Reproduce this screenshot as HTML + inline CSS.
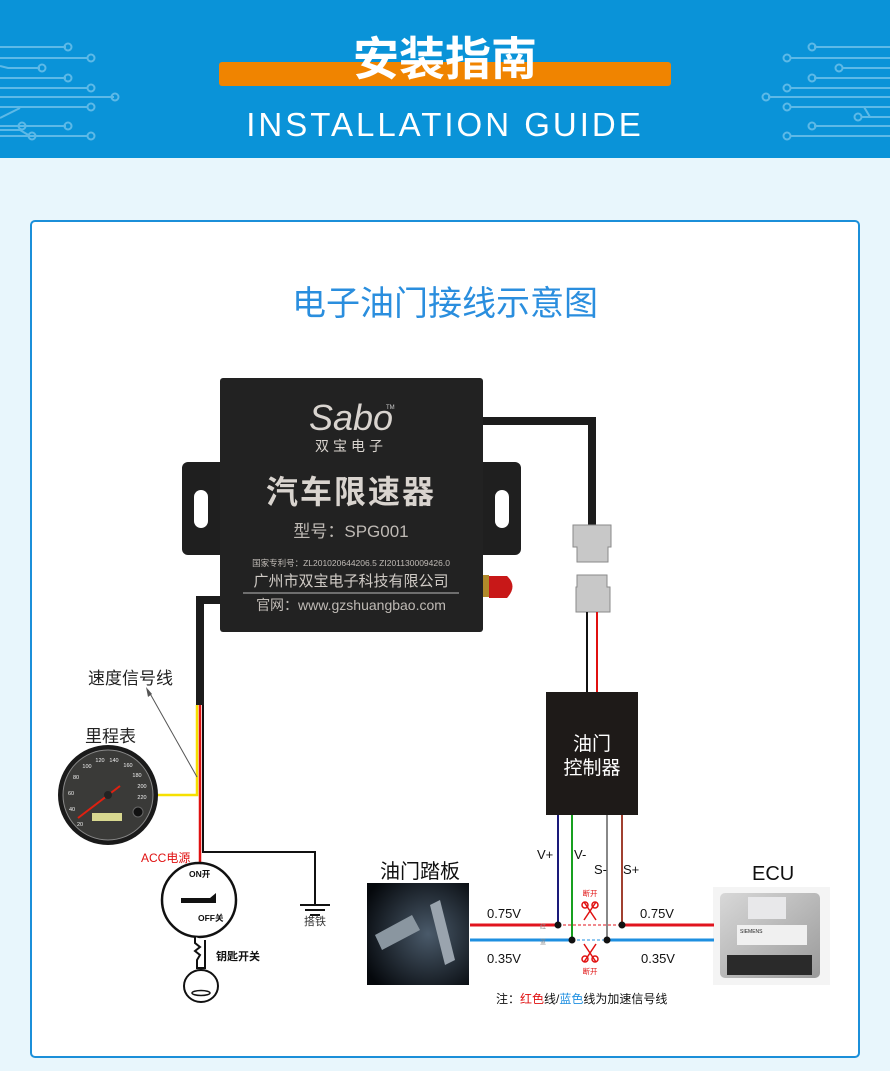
<!DOCTYPE html>
<html><head><meta charset="utf-8">
<style>
html,body{margin:0;padding:0;}
body{width:890px;height:1066px;background:#e8f6fc;font-family:"Liberation Sans","Noto Sans CJK SC",sans-serif;overflow:hidden;}
svg text{font-family:"Liberation Sans","Noto Sans CJK SC",sans-serif;}
</style></head><body>
<svg width="890" height="1066" viewBox="0 0 890 1066" xmlns="http://www.w3.org/2000/svg">
<defs>
<linearGradient id="ecu" x1="0" y1="0" x2="1" y2="1"><stop offset="0" stop-color="#d8d8d8"/><stop offset="1" stop-color="#9a9a9a"/></linearGradient>
<radialGradient id="ped" cx="0.6" cy="0.5" r="0.7"><stop offset="0" stop-color="#4a5a6a"/><stop offset="1" stop-color="#05080c"/></radialGradient>
</defs>
<rect x="0" y="0" width="890" height="158" fill="#0a93d8"/>
<g stroke="#6cc0ea" stroke-width="2" fill="none" opacity="0.85">
 <path d="M0 47H66 M0 58H88 M0 66L8 68H40 M0 78H66 M0 88H88 M0 97H114 M0 107H88 M0 118L20 108 M0 126H66 M0 136H88 M0 130H20L30 136"/>
 <circle cx="68" cy="47" r="3.5"/><circle cx="91" cy="58" r="3.5"/><circle cx="42" cy="68" r="3.5"/><circle cx="68" cy="78" r="3.5"/><circle cx="91" cy="88" r="3.5"/><circle cx="115" cy="97" r="3.5"/><circle cx="91" cy="107" r="3.5"/><circle cx="22" cy="126" r="3.5"/><circle cx="68" cy="126" r="3.5"/><circle cx="91" cy="136" r="3.5"/><circle cx="32" cy="136" r="3.5"/>
 <path d="M890 47H814 M890 58H790 M890 68H842 M890 78H814 M890 88H790 M890 97H768 M890 107H790 L864 107 L870 117 M890 126H814 M890 136H790 M890 117H862"/>
 <circle cx="812" cy="47" r="3.5"/><circle cx="787" cy="58" r="3.5"/><circle cx="839" cy="68" r="3.5"/><circle cx="812" cy="78" r="3.5"/><circle cx="787" cy="88" r="3.5"/><circle cx="766" cy="97" r="3.5"/><circle cx="787" cy="107" r="3.5"/><circle cx="812" cy="126" r="3.5"/><circle cx="787" cy="136" r="3.5"/><circle cx="858" cy="117" r="3.5"/>
</g>
<rect x="219" y="62" width="452" height="24" rx="3" fill="#f08400"/>
<text x="445" y="75" text-anchor="middle" font-size="46" font-weight="bold" fill="#fff">安装指南</text>
<text x="445" y="136" text-anchor="middle" font-size="33" fill="#fff" letter-spacing="3">INSTALLATION GUIDE</text>

<rect x="31" y="221" width="828" height="836" rx="4" fill="#fff" stroke="#1b8fd9" stroke-width="2"/>
<text x="445" y="315" text-anchor="middle" font-size="34" fill="#2a8ede">电子油门接线示意图</text>

<!-- right cable -->
<path d="M480 421H592V526" stroke="#1c1c1c" stroke-width="8" fill="none"/>
<path d="M573 525H611V547H608V562H577V547H573Z" fill="#c8c8c8" stroke="#8a8a8a"/>
<path d="M577 575H607V587H610V612H576V587H577Z" fill="#c8c8c8" stroke="#8a8a8a"/>
<line x1="587" y1="612" x2="587" y2="692" stroke="#111" stroke-width="2"/>
<line x1="597" y1="612" x2="597" y2="692" stroke="#e01010" stroke-width="2"/>
<rect x="546" y="692" width="92" height="123" fill="#1e1a18"/>
<text x="592" y="750" text-anchor="middle" font-size="19" fill="#fff">油门</text>
<text x="592" y="774" text-anchor="middle" font-size="19" fill="#fff">控制器</text>

<!-- left cable -->
<path d="M222 600H200V705" stroke="#1c1c1c" stroke-width="8" fill="none"/>
<path d="M197 705V795H157" stroke="#f6e000" stroke-width="2.5" fill="none"/>
<line x1="200" y1="705" x2="200" y2="862" stroke="#e01010" stroke-width="2.5"/>
<path d="M203 705V852H315V905" stroke="#111" stroke-width="2" fill="none"/>
<path d="M300 905H330M305 910H325M310 915H320" stroke="#111" stroke-width="2"/>
<text x="315" y="925" text-anchor="middle" font-size="11" fill="#333">搭铁</text>

<!-- antenna -->
<rect x="483" y="575" width="6" height="22" fill="#b08a2a"/>
<path d="M489 576H507Q518 586 507 598H489Z" fill="#c81818"/>

<!-- device -->
<rect x="182" y="462" width="339" height="93" rx="6" fill="#1f1f1f"/>
<rect x="194" y="490" width="14" height="38" rx="7" fill="#fff"/>
<rect x="495" y="490" width="14" height="38" rx="7" fill="#fff"/>
<rect x="220" y="378" width="263" height="254" rx="3" fill="#222"/>
<text x="351" y="430" text-anchor="middle" font-size="36" fill="#d9d4cf" font-style="italic">Sabo</text>
<text x="386" y="409" font-size="6" fill="#ccc">TM</text>
<text x="351" y="451" text-anchor="middle" font-size="14" fill="#d9d4cf" letter-spacing="4">双宝电子</text>
<text x="351" y="503" text-anchor="middle" font-size="32" font-weight="bold" fill="#d9d4cf" letter-spacing="2">汽车限速器</text>
<text x="351" y="537" text-anchor="middle" font-size="17" fill="#bfbab5">型号：SPG001</text>
<text x="351" y="566" text-anchor="middle" font-size="8.5" fill="#bfbab5">国家专利号：ZL201020644206.5  ZI201130009426.0</text>
<text x="351" y="586" text-anchor="middle" font-size="15" fill="#cfcac5">广州市双宝电子科技有限公司</text>
<line x1="243" y1="593" x2="459" y2="593" stroke="#bbb" stroke-width="1"/>
<text x="351" y="610" text-anchor="middle" font-size="14" fill="#bfbab5">官网：www.gzshuangbao.com</text>

<!-- labels left -->
<text x="88" y="684" font-size="17" fill="#222">速度信号线</text>
<line x1="197" y1="777" x2="148" y2="690" stroke="#555" stroke-width="1"/>
<path d="M146 687L148 697L152 694Z" fill="#555"/>
<text x="85" y="742" font-size="17" fill="#222">里程表</text>
<circle cx="108" cy="795" r="50" fill="#1a1a1a"/>
<circle cx="108" cy="795" r="45" fill="#3a3a38" stroke="#888" stroke-width="1"/>
<g fill="#eee" font-size="5.5" text-anchor="middle">
<text x="80" y="826">20</text><text x="72" y="811">40</text><text x="71" y="795">60</text><text x="76" y="779">80</text><text x="87" y="768">100</text><text x="100" y="762">120</text><text x="114" y="762">140</text><text x="128" y="767">160</text><text x="137" y="777">180</text><text x="142" y="788">200</text><text x="142" y="799">220</text>
</g>
<line x1="78" y1="818" x2="120" y2="786" stroke="#e02010" stroke-width="2"/>
<circle cx="108" cy="795" r="4" fill="#222"/>
<rect x="92" y="813" width="30" height="8" fill="#d8d890"/>
<circle cx="138" cy="812" r="5" fill="#111" stroke="#666"/>

<!-- key switch -->
<text x="141" y="862" font-size="12" fill="#e01010">ACC电源</text>
<circle cx="199" cy="900" r="37" fill="#fff" stroke="#111" stroke-width="2.5"/>
<text x="189" y="877" font-size="8.5" font-weight="bold" fill="#111">ON开</text>
<text x="198" y="921" font-size="8.5" font-weight="bold" fill="#111">OFF关</text>
<path d="M181 898H210L216 893V903H181Z" fill="#111"/>
<path d="M195 937V943L200 947L195 951L200 955L197 960V968H205V940" stroke="#111" stroke-width="2" fill="#fff"/>
<text x="216" y="960" font-size="11" font-weight="bold" fill="#111">钥匙开关</text>
<ellipse cx="201" cy="986" rx="17" ry="16" fill="#fff" stroke="#111" stroke-width="2"/>
<ellipse cx="201" cy="993" rx="9" ry="2.5" fill="#fff" stroke="#111" stroke-width="1.5"/>

<!-- bottom wiring -->
<text x="380" y="878" font-size="20" fill="#111">油门踏板</text>
<rect x="367" y="883" width="102" height="102" fill="url(#ped)"/>
<path d="M375 935L412 915L420 930L382 950Z" fill="#8a96a0"/>
<path d="M430 905L440 900L455 960L445 965Z" fill="#9aa4ae"/>
<text x="752" y="880" font-size="20" fill="#111">ECU</text>
<rect x="713" y="887" width="117" height="98" fill="#f4f4f4"/>
<rect x="720" y="893" width="100" height="85" rx="5" fill="url(#ecu)"/>
<rect x="748" y="897" width="38" height="22" fill="#e8e8ea"/>
<rect x="737" y="925" width="70" height="20" fill="#f0f0f0"/>
<text x="740" y="933" font-size="5" fill="#222">SIEMENS</text>
<rect x="727" y="955" width="85" height="20" fill="#2a2a2a"/>

<line x1="470" y1="925" x2="558" y2="925" stroke="#e0141e" stroke-width="3"/>
<line x1="558" y1="925" x2="622" y2="925" stroke="#e0141e" stroke-width="1" stroke-dasharray="3,2"/>
<line x1="622" y1="925" x2="714" y2="925" stroke="#e0141e" stroke-width="3"/>
<line x1="470" y1="940" x2="572" y2="940" stroke="#1e8fe0" stroke-width="3"/>
<line x1="572" y1="940" x2="607" y2="940" stroke="#1e8fe0" stroke-width="1" stroke-dasharray="3,2"/>
<line x1="607" y1="940" x2="714" y2="940" stroke="#1e8fe0" stroke-width="3"/>
<line x1="558" y1="815" x2="558" y2="925" stroke="#1a1a7a" stroke-width="2"/>
<line x1="572" y1="815" x2="572" y2="940" stroke="#18a020" stroke-width="2"/>
<line x1="607" y1="815" x2="607" y2="940" stroke="#888" stroke-width="2"/>
<line x1="622" y1="815" x2="622" y2="925" stroke="#a04030" stroke-width="2"/>
<g fill="#111"><circle cx="558" cy="925" r="3.5"/><circle cx="622" cy="925" r="3.5"/><circle cx="572" cy="940" r="3.5"/><circle cx="607" cy="940" r="3.5"/></g>
<g font-size="13" fill="#111"><text x="537" y="859">V+</text><text x="574" y="859">V-</text><text x="594" y="874">S-</text><text x="623" y="874">S+</text></g>
<g font-size="13" fill="#111"><text x="487" y="918">0.75V</text><text x="640" y="918">0.75V</text><text x="487" y="963">0.35V</text><text x="641" y="963">0.35V</text></g>
<text x="540" y="929" font-size="6" fill="#888">红</text><text x="540" y="944" font-size="6" fill="#888">蓝</text>
<g fill="#e01010" font-size="7.5" text-anchor="middle"><text x="590" y="896">断开</text><text x="590" y="974">断开</text></g>
<g stroke="#e01010" stroke-width="1.5" fill="none">
<path d="M584 902L596 920M596 902L584 920"/><circle cx="585" cy="905" r="3"/><circle cx="595" cy="905" r="3"/>
<path d="M584 962L596 944M596 962L584 944"/><circle cx="585" cy="959" r="3"/><circle cx="595" cy="959" r="3"/>
</g>
<text x="496" y="1003" font-size="12" fill="#111">注：<tspan fill="#e01010">红色</tspan>线/<tspan fill="#1e8fe0">蓝色</tspan>线为加速信号线</text>
</svg>
</body></html>
